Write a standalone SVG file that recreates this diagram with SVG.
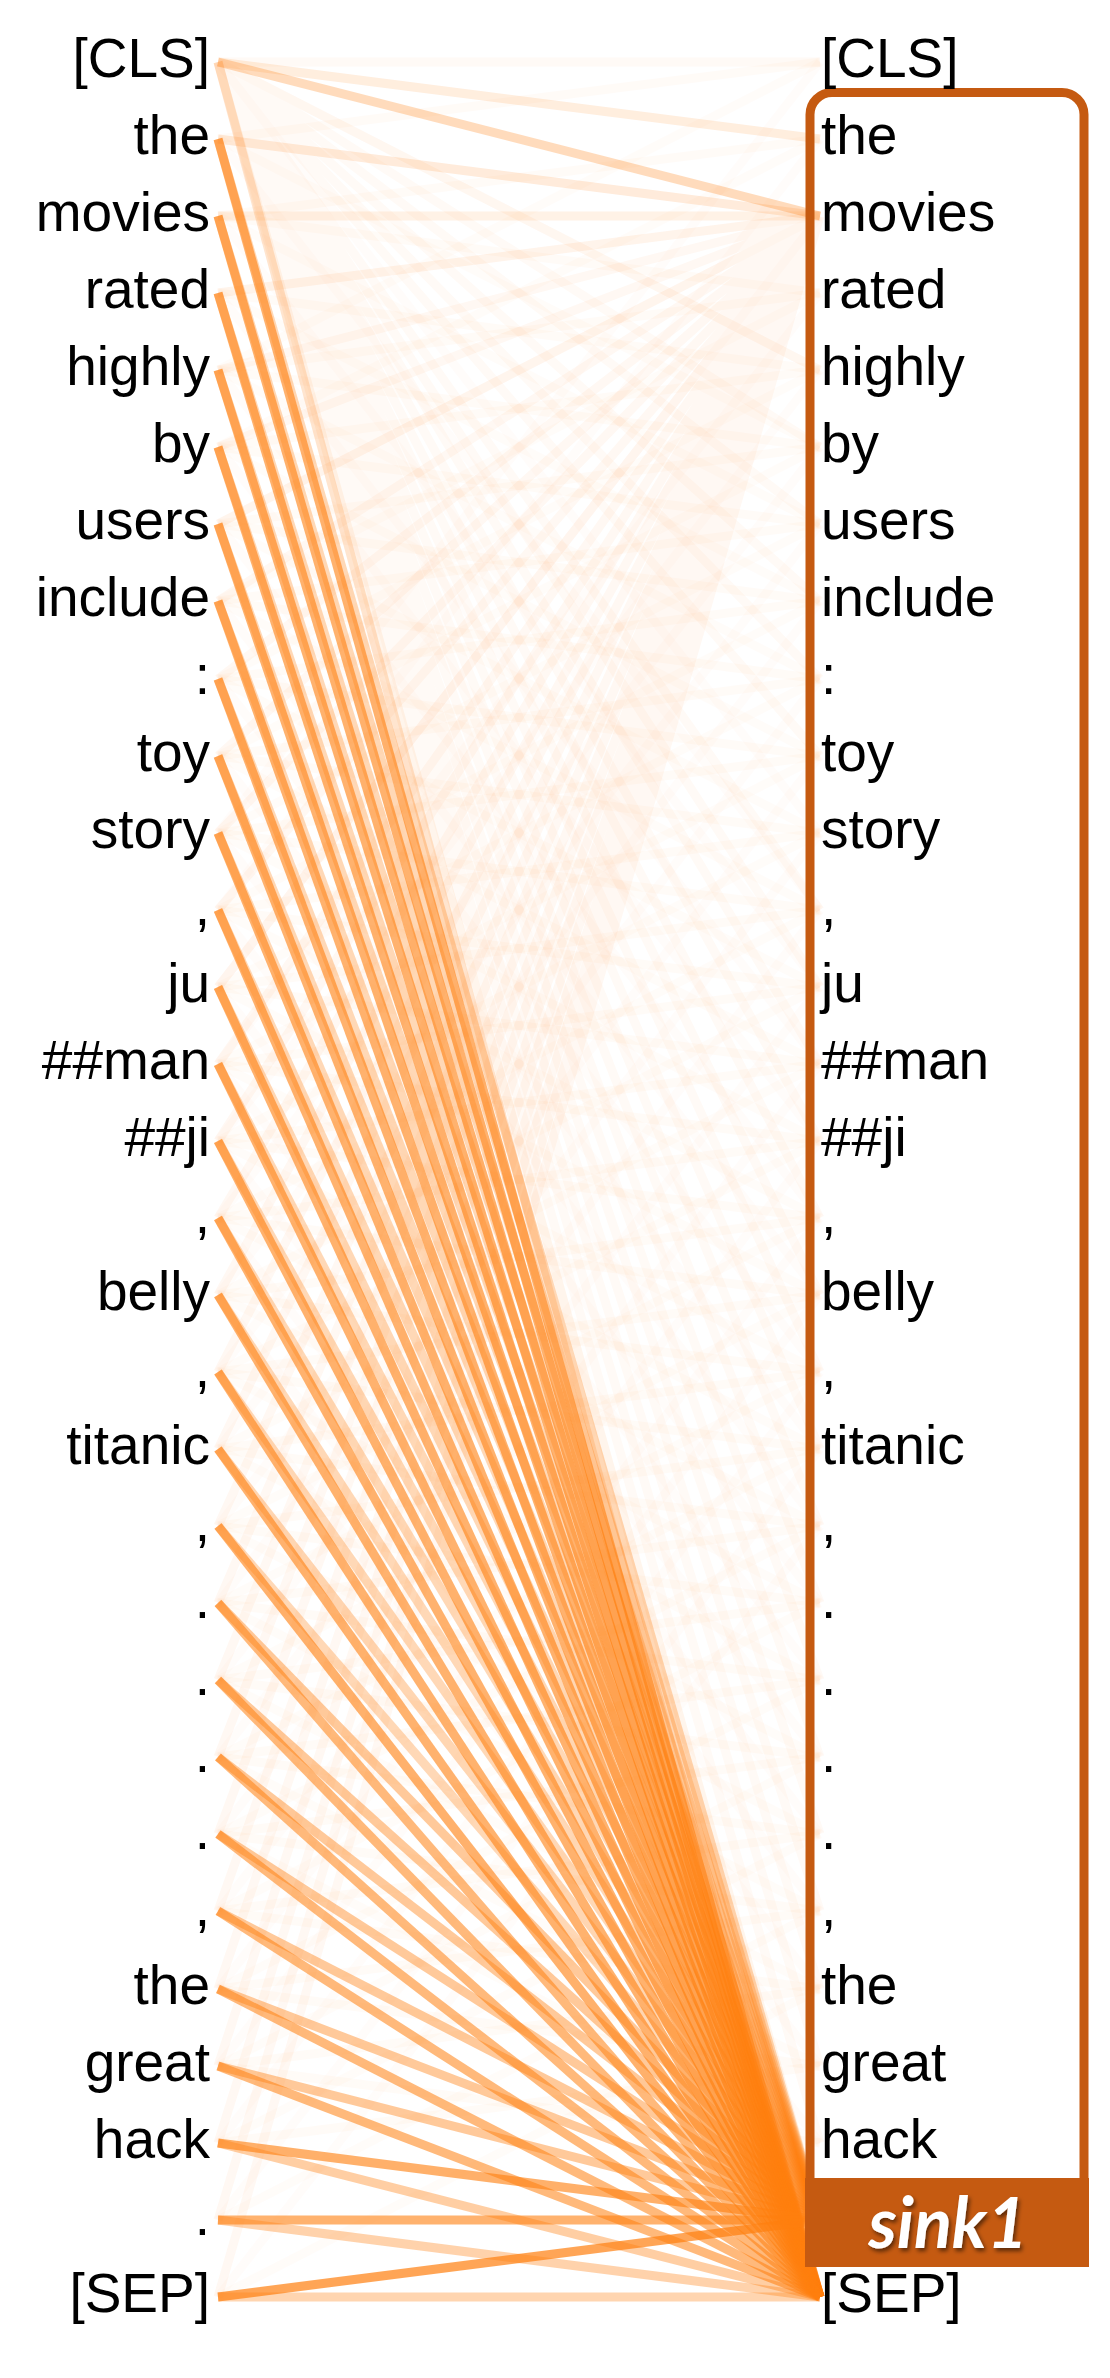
<svg xmlns="http://www.w3.org/2000/svg" width="1110" height="2378" viewBox="0 0 1110 2378">
<defs>
<style>
.tok{font-family:"Liberation Sans",Arial,sans-serif;font-size:55px;fill:#000}
.l{text-anchor:end}
.conn path{fill:none;stroke:#ff7f0e;stroke-width:9;stroke-linecap:butt}
.frame{fill:none;stroke:#c55a11;stroke-width:9}
.lab{fill:#c55a11}
.sinkt{font-family:Lato,"Open Sans",sans-serif;font-weight:bold;font-style:italic;font-size:70px;fill:#fff;text-anchor:middle}
</style>
<filter id="sh" x="-20%" y="-30%" width="140%" height="170%"><feDropShadow dx="2" dy="3" stdDeviation="2" flood-color="#000" flood-opacity="0.55"/></filter>
</defs>
<rect width="1110" height="2378" fill="#fff"/>
<g id="connectors" class="conn">
<path stroke-opacity="0.03" d="M218 62L820 139M218 139L820 216M218 216L820 293M218 293L820 370M218 370L820 447M218 447L820 524M218 524L820 601M218 601L820 679M218 679L820 756M218 756L820 833M218 833L820 910M218 910L820 987M218 987L820 1064M218 1064L820 1141M218 1141L820 1218M218 1218L820 1295M218 1295L820 1372M218 1372L820 1449M218 1449L820 1526M218 1526L820 1603M218 1603L820 1680M218 1680L820 1757M218 1757L820 1834M218 1834L820 1911M218 1911L820 1989M218 1989L820 2066M218 2066L820 2143"/>
<path stroke-opacity="0.03" d="M218 139L820 62M218 216L820 139M218 293L820 216M218 370L820 293M218 447L820 370M218 524L820 447M218 601L820 524M218 679L820 601M218 756L820 679M218 833L820 756M218 910L820 833M218 987L820 910M218 1064L820 987M218 1141L820 1064M218 1218L820 1141M218 1295L820 1218M218 1372L820 1295M218 1449L820 1372M218 1526L820 1449M218 1603L820 1526M218 1680L820 1603M218 1757L820 1680M218 1834L820 1757M218 1911L820 1834M218 1989L820 1911M218 2066L820 1989M218 2143L820 2066"/>
<path stroke-opacity="0.025" d="M218 62L820 370M218 139L820 447M218 216L820 524M218 293L820 601M218 370L820 679M218 447L820 756M218 524L820 833M218 601L820 910M218 679L820 987M218 756L820 1064M218 833L820 1141M218 910L820 1218M218 987L820 1295M218 1064L820 1372M218 1141L820 1449M218 1218L820 1526M218 1295L820 1603M218 1372L820 1680M218 1449L820 1757M218 1526L820 1834M218 1603L820 1911M218 1680L820 1989M218 1757L820 2066M218 1834L820 2143"/>
<path stroke-opacity="0.025" d="M218 370L820 62M218 447L820 139M218 524L820 216M218 601L820 293M218 679L820 370M218 756L820 447M218 833L820 524M218 910L820 601M218 987L820 679M218 1064L820 756M218 1141L820 833M218 1218L820 910M218 1295L820 987M218 1372L820 1064M218 1449L820 1141M218 1526L820 1218M218 1603L820 1295M218 1680L820 1372M218 1757L820 1449M218 1834L820 1526M218 1911L820 1603M218 1989L820 1680M218 2066L820 1757M218 2143L820 1834M218 2220L820 1911M218 2297L820 1989"/>
<path stroke-opacity="0.02" d="M218 62L820 833M218 139L820 910M218 216L820 987M218 293L820 1064M218 370L820 1141M218 447L820 1218M218 524L820 1295M218 601L820 1372M218 679L820 1449M218 756L820 1526M218 833L820 1603M218 910L820 1680M218 987L820 1757M218 1064L820 1834M218 1141L820 1911M218 1218L820 1989M218 1295L820 2066M218 1372L820 2143M218 1449L820 2220M218 1526L820 2297"/>
<path stroke-opacity="0.02" d="M218 833L820 62M218 910L820 139M218 987L820 216M218 1064L820 293M218 1141L820 370M218 1218L820 447M218 1295L820 524M218 1372L820 601M218 1449L820 679M218 1526L820 756M218 1603L820 833M218 1680L820 910M218 1757L820 987M218 1834L820 1064M218 1911L820 1141M218 1989L820 1218M218 2066L820 1295M218 2143L820 1372M218 2220L820 1449M218 2297L820 1526"/>
<path stroke-opacity="0.04" d="M218 62L820 62M218 62L820 370M218 62L820 447M218 62L820 524M218 62L820 601M218 62L820 679M218 62L820 756M218 62L820 910M218 62L820 987M218 62L820 1064M218 62L820 1141M218 62L820 1218M218 62L820 1295M218 62L820 1372M218 62L820 1449M218 62L820 1526M218 62L820 1603M218 62L820 1680M218 62L820 1757M218 62L820 1834M218 62L820 1911M218 62L820 1989M218 62L820 2066M218 62L820 2143"/>
<path stroke-opacity="0.05" d="M218 293L820 216M218 370L820 216M218 447L820 216M218 524L820 216M218 601L820 216M218 679L820 216M218 756L820 216M218 833L820 216M218 910L820 216M218 987L820 216M218 1064L820 216M218 1141L820 216M218 1218L820 216M218 1295L820 216M218 1372L820 216M218 1449L820 216M218 1526L820 216M218 1603L820 216M218 1680L820 216M218 1757L820 216M218 1834L820 216M218 1911L820 216M218 1989L820 216M218 2066L820 216M218 2143L820 216M218 2220L820 216M218 2297L820 216"/>
<path stroke-opacity="0.28" d="M218 62L820 216"/>
<path stroke-opacity="0.1" d="M218 62L820 139"/>
<path stroke-opacity="0.12" d="M218 139L820 216"/>
<path stroke-opacity="0.1" d="M218 216L820 216"/>
<path stroke-opacity="0.2" d="M218 62L820 2297"/>
<path stroke-opacity="0.08" d="M218 62L820 2220"/>
<g stroke-opacity="0.3">
<path d="M218 139L820 2220"/><path d="M218 216L820 2220"/><path d="M218 293L820 2220"/><path d="M218 370L820 2220"/><path d="M218 447L820 2220"/><path d="M218 524L820 2220"/><path d="M218 601L820 2220"/><path d="M218 679L820 2220"/><path d="M218 756L820 2220"/><path d="M218 833L820 2220"/><path d="M218 910L820 2220"/><path d="M218 987L820 2220"/><path d="M218 1064L820 2220"/><path d="M218 1141L820 2220"/><path d="M218 1218L820 2220"/><path d="M218 1295L820 2220"/><path d="M218 1372L820 2220"/><path d="M218 1449L820 2220"/><path d="M218 1526L820 2220"/>
</g>
<g stroke-opacity="0.42">
<path d="M218 1603L820 2220"/><path d="M218 1680L820 2220"/><path d="M218 1757L820 2220"/><path d="M218 1834L820 2220"/><path d="M218 1911L820 2220"/><path d="M218 1989L820 2220"/><path d="M218 2066L820 2220"/>
</g>
<g stroke-opacity="0.6">
<path d="M218 139L820 2297"/><path d="M218 216L820 2297"/><path d="M218 293L820 2297"/><path d="M218 370L820 2297"/><path d="M218 447L820 2297"/><path d="M218 524L820 2297"/><path d="M218 601L820 2297"/><path d="M218 679L820 2297"/><path d="M218 756L820 2297"/><path d="M218 833L820 2297"/><path d="M218 910L820 2297"/><path d="M218 987L820 2297"/><path d="M218 1064L820 2297"/><path d="M218 1141L820 2297"/><path d="M218 1218L820 2297"/><path d="M218 1295L820 2297"/><path d="M218 1372L820 2297"/><path d="M218 1449L820 2297"/><path d="M218 1526L820 2297"/>
</g>
<g stroke-opacity="0.55">
<path d="M218 1603L820 2297"/><path d="M218 1680L820 2297"/><path d="M218 1757L820 2297"/><path d="M218 1834L820 2297"/><path d="M218 1911L820 2297"/><path d="M218 1989L820 2297"/><path d="M218 2066L820 2297"/>
</g>
<path stroke-opacity="0.62" d="M218 2143L820 2220"/>
<path stroke-opacity="0.38" d="M218 2143L820 2297"/>
<path stroke-opacity="0.6" d="M218 2220L820 2220"/>
<path stroke-opacity="0.35" d="M218 2220L820 2297"/>
<path stroke-opacity="0.7" d="M218 2297L820 2220"/>
<path stroke-opacity="0.33" d="M218 2297L820 2297"/>
</g>
<g id="left-tokens" class="tok l">
<g id="L0"><text x="210" y="77">[CLS]</text></g>
<g id="L1"><text x="210" y="154">the</text></g>
<g id="L2"><text x="210" y="231">movies</text></g>
<g id="L3"><text x="210" y="308">rated</text></g>
<g id="L4"><text x="210" y="385">highly</text></g>
<g id="L5"><text x="210" y="462">by</text></g>
<g id="L6"><text x="210" y="539">users</text></g>
<g id="L7"><text x="210" y="616">include</text></g>
<g id="L8"><text x="210" y="694">:</text></g>
<g id="L9"><text x="210" y="771">toy</text></g>
<g id="L10"><text x="210" y="848">story</text></g>
<g id="L11"><text x="210" y="925">,</text></g>
<g id="L12"><text x="210" y="1002">ju</text></g>
<g id="L13"><text x="210" y="1079">##man</text></g>
<g id="L14"><text x="210" y="1156">##ji</text></g>
<g id="L15"><text x="210" y="1233">,</text></g>
<g id="L16"><text x="210" y="1310">belly</text></g>
<g id="L17"><text x="210" y="1387">,</text></g>
<g id="L18"><text x="210" y="1464">titanic</text></g>
<g id="L19"><text x="210" y="1541">,</text></g>
<g id="L20"><text x="210" y="1618">.</text></g>
<g id="L21"><text x="210" y="1695">.</text></g>
<g id="L22"><text x="210" y="1772">.</text></g>
<g id="L23"><text x="210" y="1849">.</text></g>
<g id="L24"><text x="210" y="1926">,</text></g>
<g id="L25"><text x="210" y="2004">the</text></g>
<g id="L26"><text x="210" y="2081">great</text></g>
<g id="L27"><text x="210" y="2158">hack</text></g>
<g id="L28"><text x="210" y="2235">.</text></g>
<g id="L29"><text x="210" y="2312">[SEP]</text></g>
</g>
<g id="sink1-frame">
<rect class="frame" x="810" y="92.5" width="274" height="2170" rx="22"/>
</g>
<g id="right-tokens" class="tok">
<g id="R0"><text x="821" y="77">[CLS]</text></g>
<g id="R1"><text x="821" y="154">the</text></g>
<g id="R2"><text x="821" y="231">movies</text></g>
<g id="R3"><text x="821" y="308">rated</text></g>
<g id="R4"><text x="821" y="385">highly</text></g>
<g id="R5"><text x="821" y="462">by</text></g>
<g id="R6"><text x="821" y="539">users</text></g>
<g id="R7"><text x="821" y="616">include</text></g>
<g id="R8"><text x="821" y="694">:</text></g>
<g id="R9"><text x="821" y="771">toy</text></g>
<g id="R10"><text x="821" y="848">story</text></g>
<g id="R11"><text x="821" y="925">,</text></g>
<g id="R12"><text x="821" y="1002">ju</text></g>
<g id="R13"><text x="821" y="1079">##man</text></g>
<g id="R14"><text x="821" y="1156">##ji</text></g>
<g id="R15"><text x="821" y="1233">,</text></g>
<g id="R16"><text x="821" y="1310">belly</text></g>
<g id="R17"><text x="821" y="1387">,</text></g>
<g id="R18"><text x="821" y="1464">titanic</text></g>
<g id="R19"><text x="821" y="1541">,</text></g>
<g id="R20"><text x="821" y="1618">.</text></g>
<g id="R21"><text x="821" y="1695">.</text></g>
<g id="R22"><text x="821" y="1772">.</text></g>
<g id="R23"><text x="821" y="1849">.</text></g>
<g id="R24"><text x="821" y="1926">,</text></g>
<g id="R25"><text x="821" y="2004">the</text></g>
<g id="R26"><text x="821" y="2081">great</text></g>
<g id="R27"><text x="821" y="2158">hack</text></g>
<g id="R29"><text x="821" y="2312">[SEP]</text></g>
</g>
<g id="sink1-label">
<rect class="lab" x="805" y="2178" width="284" height="89"/>
<text class="sinkt" x="948" y="2248" filter="url(#sh)">sink1</text>
</g>
</svg>
